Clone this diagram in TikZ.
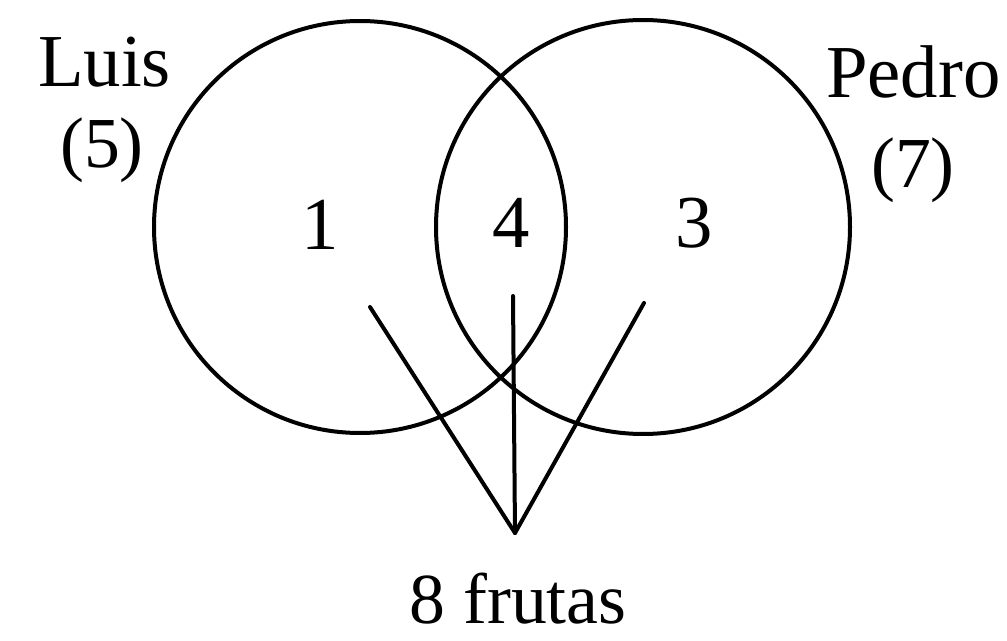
\documentclass[tikz,border=0pt]{standalone}
\usepackage{fontspec}
\setmainfont{Liberation Serif}
\begin{document}
\begin{tikzpicture}[x=1bp,y=-1bp,
  venn/.style={draw=black,line width=4bp},
  link/.style={draw=black,line width=4bp,line cap=round,line join=round},
  lbl/.style={inner sep=0pt,font=\fontsize{75}{80}\selectfont},
  smalllbl/.style={inner sep=0pt,font=\fontsize{72}{76}\selectfont}]
\useasboundingbox (0,0) rectangle (1007,641);
\draw[venn] (360,227) circle[radius=206];
\draw[venn] (643,227) circle[radius=207];
\node[lbl,anchor=base west] (luis) at (38,87) {Luis};
\node[smalllbl,anchor=base] (luisn) at (102,168) {(5)};
\node[lbl,anchor=base west] (pedro) at (826,98) {Pedro};
\node[smalllbl,anchor=base] (pedron) at (913,188) {(7)};
\node[lbl,anchor=base] (one) at (320,250) {1};
\node[lbl,anchor=base] (four) at (511,248) {4};
\node[lbl,anchor=base] (three) at (694,248) {3};
\node[smalllbl,anchor=base] (total) at (518,623) {8 frutas};
\coordinate (apex) at (515,533);
\coordinate (a1) at (370,307);
\coordinate (a4) at (513,296);
\coordinate (a3) at (644,303);
\draw[link] (a1) -- (apex);
\draw[link] (a4) -- (apex);
\draw[link] (a3) -- (apex);
\end{tikzpicture}
\end{document}
